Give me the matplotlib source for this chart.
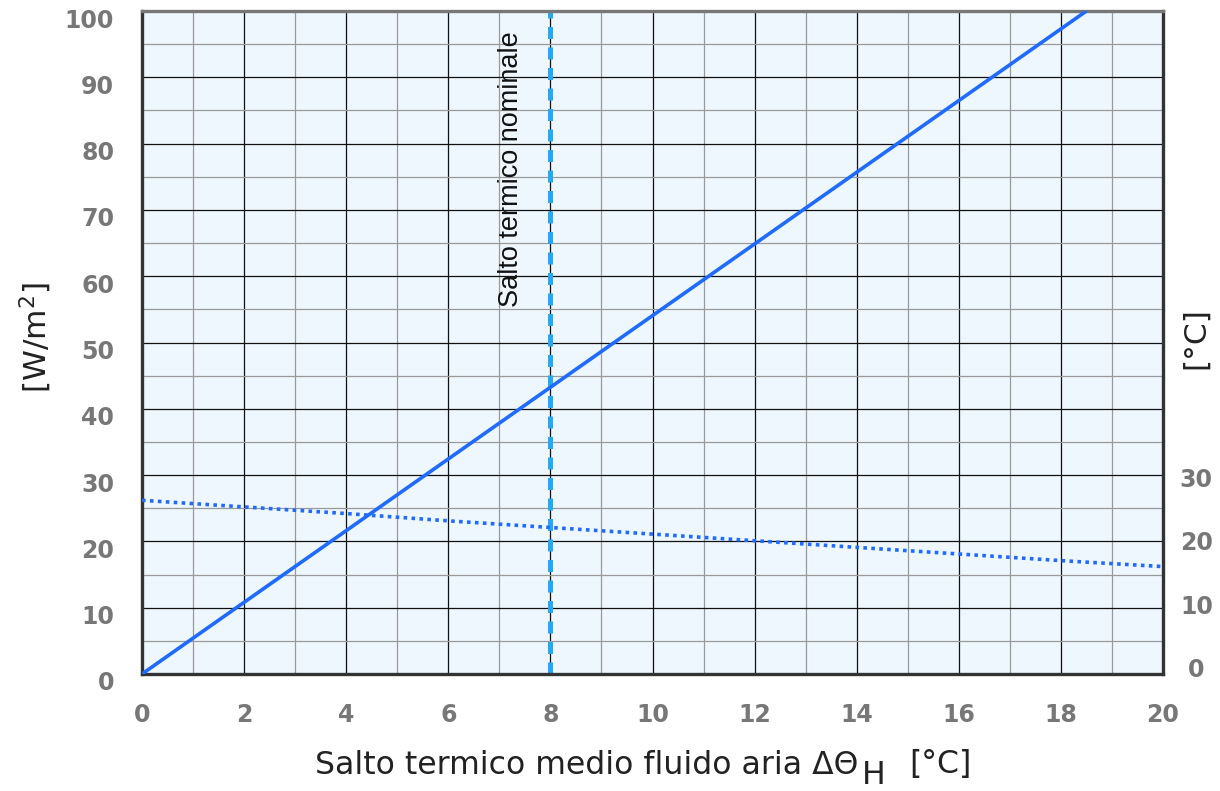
import matplotlib
matplotlib.use("Agg")
import matplotlib.pyplot as plt
import matplotlib.transforms as mtransforms
import numpy as np

# Data
dt_x = [0, 18.5]                 # Salto termico medio fluido aria [°C]
heat_flux = [0, 100]             # [W/m2]
temp_x = [0, 2, 4, 6, 8, 10, 12, 14, 16, 18, 20]
temp_y = [26.2, 25.2, 24.2, 23.1, 22.1, 21.1, 20.1, 19.1, 18.1, 17.1, 16.2]
nominal_dt = 8
x_ticks = [0, 2, 4, 6, 8, 10, 12, 14, 16, 18, 20]
y_ticks = [0, 10, 20, 30, 40, 50, 60, 70, 80, 90, 100]
right_ticks = [0, 10, 20, 30]

fig = plt.figure(figsize=(12.2, 7.91), dpi=100)
ax = fig.add_axes([142/1220, 1-674/791, (1163-142)/1220, (674-11)/791])
ax.set_facecolor("#EEF7FE")
ax.set_xlim(0, 20)
ax.set_ylim(0, 100)

TS = 17
# grid
ax.set_xticks(x_ticks)
ax.set_xticks(np.arange(0, 21, 1), minor=True)
ax.set_yticks(y_ticks)
ax.set_yticks(np.arange(0, 101, 5), minor=True)
ax.grid(which="minor", color="#9a9a9a", lw=0.9, zorder=0)
ax.grid(which="major", color="#111111", lw=0.9, zorder=0.5)
ax.set_axisbelow(True)
ax.tick_params(which="both", length=0)
ax.tick_params(axis="y", pad=20, labelsize=TS, labelcolor="#777777")
ax.tick_params(axis="x", pad=21, labelsize=TS, labelcolor="#777777")
for lab in ax.get_yticklabels() + ax.get_xticklabels():
    lab.set_fontweight("bold")
off = mtransforms.ScaledTranslation(0, -7/100, fig.dpi_scale_trans)
for lab in ax.get_yticklabels():
    lab.set_transform(lab.get_transform() + off)

for s in ax.spines.values():
    s.set_color("#333333")
    s.set_linewidth(2.4)
ax.spines["top"].set_color("#777777")

# lines
ax.plot(dt_x, heat_flux, color="#1F6BFF", lw=2.6, zorder=3, solid_capstyle="butt")
ax.plot(temp_x, temp_y, color="#1F6BFF", lw=2.6, ls=(0, (1, 1.2)), zorder=3)
ax.axvline(nominal_dt, color="#22AAF5", lw=3.6, ls=(0, (2.4, 1.7)), zorder=2)
ax.text(nominal_dt - 0.77, 55.4, "Salto termico nominale", rotation=90,
        ha="center", va="bottom", fontsize=19.5, family="Liberation Sans", color="#111111")

# right axis (its labels sit on a slightly different scale in the original)
ax2 = ax.twinx()
ax2.set_ylim(-0.95, 103.3)
ax2.set_yticks(right_ticks)
ax2.tick_params(length=0, pad=24, labelsize=TS, labelcolor="#777777")
for lab in ax2.get_yticklabels():
    lab.set_fontweight("bold")
    lab.set_horizontalalignment("center")
for s in ax2.spines.values():
    s.set_visible(False)

# axis labels
fig.text(36/1220, 1-338/791, "[W/m$^2$]", rotation=90, ha="center", va="center",
         fontsize=22.5, color="#222222")
fig.text(1196/1220, 1-338/791, "[°C]", rotation=90, ha="center", va="center",
         fontsize=22.5, color="#222222")
fig.text(315/1220, 1-765/791, "Salto termico medio fluido aria ΔΘ", ha="left", va="center",
         fontsize=22.7, color="#222222")
fig.text(862/1220, 1-776/791, "H", ha="left", va="center", fontsize=22.7, color="#222222")
fig.text(972/1220, 1-765/791, "[°C]", ha="right", va="center", fontsize=22.7, color="#222222")

fig.savefig("out.png", dpi=100)
